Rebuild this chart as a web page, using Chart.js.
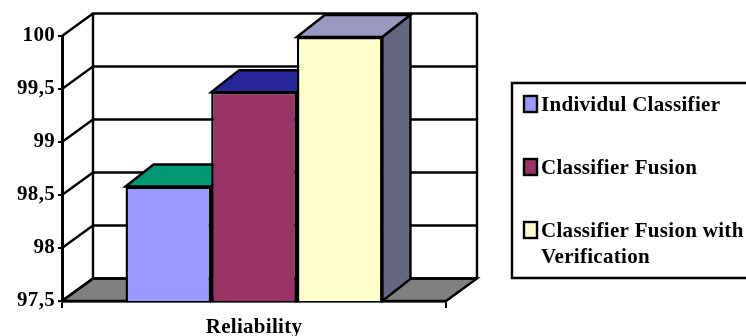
<!DOCTYPE html>
<html><head><meta charset="utf-8">
<style>html,body{margin:0;padding:0;background:#fff}canvas{display:block}</style>
<script src="https://cdn.jsdelivr.net/npm/chart.js@4"></script></head>
<body><canvas id="c" width="746" height="336"></canvas>
<script>
const categories = ["Reliability"];
const seriesNames = ["Individul Classifier", "Classifier Fusion", "Classifier Fusion with Verification"];
const individual = [98.58];
const fusion = [99.47];
const fusionVerified = [99.99];
const frontColors = ["#9999FF", "#993366", "#FFFFCC"];
const topColors = ["#009973", "#26269A", "#9999C2"];
const sideColors = ["#006650", "#1A1A66", "#666680"];
const legendLines = [["Individul Classifier"], ["Classifier Fusion"], ["Classifier Fusion with", "Verification"]];
const FONT = '"Liberation Serif", serif';
const WALL = {dx: 31, dy: 22.5}, BAR = {dx: 28, dy: 22};

function poly(ctx, pts, fill) {
  ctx.beginPath();
  pts.forEach((p, i) => i ? ctx.lineTo(p[0], p[1]) : ctx.moveTo(p[0], p[1]));
  ctx.closePath();
  if (fill) { ctx.fillStyle = fill; ctx.fill(); }
  ctx.stroke();
}
const box3d = {
  id: "box3d",
  beforeLayout(chart) { chart.ctx.letterSpacing = "0.3px"; },
  beforeDraw(chart) { chart.ctx.letterSpacing = "0.3px"; },
  beforeDatasetsDraw(chart) {
    const {ctx, chartArea: a, scales: {y}} = chart;
    ctx.save();
    ctx.strokeStyle = "#000"; ctx.lineWidth = 2.4; ctx.lineJoin = "miter";
    // floor
    poly(ctx, [[a.left, a.bottom], [a.left + WALL.dx, a.bottom - WALL.dy], [a.right + WALL.dx, a.bottom - WALL.dy], [a.right, a.bottom]], "#808080");
    // back wall and side grid lines
    ctx.beginPath();
    ctx.moveTo(a.left + WALL.dx, a.bottom - WALL.dy); ctx.lineTo(a.left + WALL.dx, a.top - WALL.dy);
    ctx.moveTo(a.right + WALL.dx, a.bottom - WALL.dy); ctx.lineTo(a.right + WALL.dx, a.top - WALL.dy);
    y.ticks.forEach(t => {
      const py = y.getPixelForValue(t.value);
      ctx.moveTo(a.left, py);
      ctx.lineTo(a.left + WALL.dx, py - WALL.dy);
      ctx.lineTo(a.right + WALL.dx, py - WALL.dy);
    });
    ctx.stroke();
    // bar depth faces
    chart.data.datasets.forEach((ds, i) => {
      const b = chart.getDatasetMeta(i).data[0];
      const l = b.x - b.width / 2, r = b.x + b.width / 2, t = b.y, base = a.bottom;
      poly(ctx, [[l, t], [l + BAR.dx, t - BAR.dy], [r + BAR.dx, t - BAR.dy], [r, t]], topColors[i]);
      poly(ctx, [[r, t], [r + BAR.dx, t - BAR.dy], [r + BAR.dx, base - BAR.dy], [r, base]], sideColors[i]);
    });
    ctx.restore();
  },
  afterDraw(chart) {
    const {ctx} = chart;
    ctx.save();
    // legend frame
    ctx.strokeStyle = "#000"; ctx.lineWidth = 2.4;
    ctx.beginPath();
    ctx.moveTo(746, 83); ctx.lineTo(512, 83); ctx.lineTo(512, 278); ctx.lineTo(746, 278);
    ctx.stroke();
    const rows = [106, 169, 232];
    ctx.font = "bold 21px " + FONT;
    ctx.textBaseline = "middle"; ctx.textAlign = "left";
    legendLines.forEach((lines, i) => {
      ctx.fillStyle = frontColors[i];
      ctx.fillRect(524, rows[i] - 10, 13, 16);
      ctx.strokeRect(524, rows[i] - 10, 13, 16);
      ctx.fillStyle = "#000";
      lines.forEach((s, k) => ctx.fillText(s, 541, rows[i] + k * 26));
    });
    ctx.restore();
  }
};

new Chart(document.getElementById("c"), {
  type: "bar",
  data: {
    labels: categories,
    datasets: [individual, fusion, fusionVerified].map((d, i) => ({
      label: seriesNames[i], data: d,
      backgroundColor: frontColors[i], borderColor: "#000", borderWidth: 2.4, borderSkipped: false,
      barPercentage: 1, categoryPercentage: 0.669
    }))
  },
  options: {
    responsive: false, animation: false,
    layout: {padding: {top: 36, right: 300, left: 0, bottom: 0}},
    plugins: {legend: {display: false}, title: {display: false}, tooltip: {enabled: false}},
    scales: {
      x: {
        afterFit: s => { s.height = 35; },
        grid: {drawOnChartArea: false, color: "#000", lineWidth: 2, tickLength: 7, offset: true},
        border: {display: true, color: "#000", width: 2.4},
        ticks: {color: "#000", font: {family: FONT, weight: "bold", size: 21}, padding: 7, maxRotation: 0}
      },
      y: {
        min: 97.5, max: 100,
        afterFit: s => { s.width = 62; },
        grid: {drawOnChartArea: false, color: "#000", lineWidth: 2, tickLength: 4},
        border: {display: true, color: "#000", width: 3},
        ticks: {stepSize: 0.5, color: "#000", padding: 3,
          font: {family: FONT, weight: "bold", size: 21},
          callback: v => String(v).replace(".", ",")}
      }
    }
  },
  plugins: [box3d]
});
</script></body></html>
